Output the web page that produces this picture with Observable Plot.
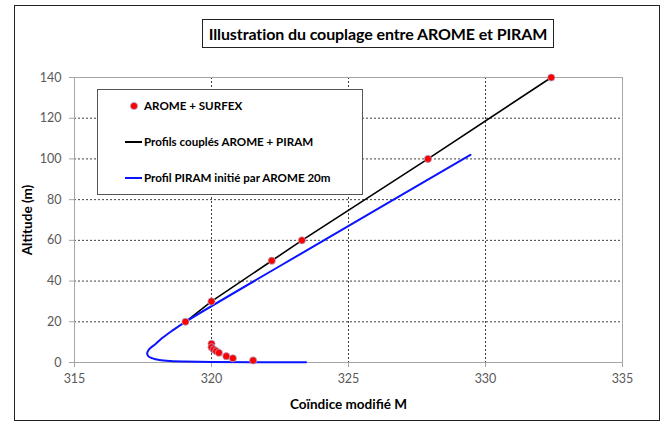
<!DOCTYPE html>
<html>
<head>
<meta charset="utf-8">
<script src="https://cdn.jsdelivr.net/npm/d3@7"></script>
<script src="https://cdn.jsdelivr.net/npm/@observablehq/plot@0.6"></script>
<style>
  html, body { margin: 0; padding: 0; background: #fff; }
  #wrap { position: relative; width: 664px; height: 427px; font-family: Lato, "Open Sans", sans-serif; }
  #outer { position: absolute; left: 14px; top: 5px; width: 646px; height: 416px; border: 1px solid #222; box-sizing: border-box; pointer-events: none; }
  #title { position: absolute; left: 202px; top: 19px; width: 352px; height: 29px; border: 1px solid #222; box-sizing: border-box;
           font-weight: bold; font-size: 16px; text-align: center; line-height: 27px; color: #000; background: #fff; letter-spacing: -0.1px; }
  #legend { position: absolute; left: 97px; top: 89px; width: 266px; height: 106px; border: 1px solid #555; box-sizing: border-box; background: #fff; }
  .item { position: absolute; left: 0; height: 16px; font-weight: bold; font-size: 11.6px; line-height: 16px; color: #000; white-space: nowrap; }
  .item svg { position: absolute; left: 24px; top: 0; }
  .item span { position: absolute; left: 46px; top: 0; }
  #plot { position: absolute; left: 0; top: 0; }
</style>
</head>
<body>
<div id="wrap">
  <div id="plot"></div>
  <div id="outer"></div>
  <div id="title"></div>
  <div id="legend"></div>
</div>
<script>
// ---- data ----
const titleText = "Illustration du couplage entre AROME et PIRAM";
const xLabel = "Coïndice modifié M";
const yLabel = "Altitude (m)";
const seriesNames = ["AROME + SURFEX", "Profils couplés AROME + PIRAM", "Profil PIRAM initié par AROME 20m"];
const xTicks = [315, 320, 325, 330, 335];
const yTicks = [0, 20, 40, 60, 80, 100, 120, 140];

// AROME + SURFEX points
const aromeM = [320.0, 320.0, 320.08, 320.17, 320.27, 320.54, 320.78, 321.52, 319.05, 320.0, 322.2, 323.3, 327.9, 332.4];
const aromeZ = [9.2, 7.5, 6.4, 5.6, 4.8, 3.1, 2.1, 1.0, 20, 30, 50, 60, 100, 140];

// Coupled profiles AROME + PIRAM
const coupleM = [319.05, 320.0, 322.2, 323.3, 327.9, 332.4];
const coupleZ = [20, 30, 50, 60, 100, 140];

// PIRAM profile initialised by AROME 20 m
const piramM = [323.45, 321.5, 320.0, 319.0, 318.5, 318.1, 317.85, 317.7, 317.65, 317.72, 317.95, 318.2, 318.55, 319.05, 324.1, 329.45];
const piramZ = [0.1, 0.15, 0.25, 0.45, 0.7, 1.2, 2.0, 3.0, 4.5, 6.5, 9.0, 12.0, 15.5, 20, 60, 102];

// ---- build ----
const arome = aromeM.map((m, i) => ({m, z: aromeZ[i]}));
const couple = coupleM.map((m, i) => ({m, z: coupleZ[i]}));
const piram = piramM.map((m, i) => ({m, z: piramZ[i]}));

const colors = {dot: "#ff0000", couple: "#000000", piram: "#0a14ff"};

const chart = Plot.plot({
  width: 664,
  height: 427,
  marginLeft: 74,
  marginRight: 42,
  marginTop: 77,
  marginBottom: 65,
  style: {fontFamily: "Lato, 'Open Sans', sans-serif", fontSize: "12.5px", color: "#595959", background: "transparent"},
  x: {domain: [315, 335]},
  y: {domain: [0, 140]},
  marks: [
    Plot.gridX(xTicks.slice(1, -1), {stroke: "#000", strokeOpacity: 0.75, strokeDasharray: "2,2"}),
    Plot.gridY(yTicks.slice(1, -1), {stroke: "#000", strokeOpacity: 0.75, strokeDasharray: "2,2"}),
    Plot.frame({stroke: "#a6a6a6"}),
    Plot.axisX({ticks: xTicks, tickSize: 5, tickPadding: 7, stroke: "#a6a6a6", tickFormat: d => d,
      label: xLabel, labelAnchor: "center", labelArrow: "none", labelOffset: 46,
      fill: "#595959"}),
    Plot.axisY({ticks: yTicks, tickSize: 5, tickPadding: 8, stroke: "#a6a6a6", tickFormat: d => d,
      label: yLabel, labelAnchor: "center", labelArrow: "none", labelOffset: 52,
      fill: "#595959"}),
    Plot.line(couple, {x: "m", y: "z", stroke: colors.couple, strokeWidth: 1.6}),
    Plot.line(piram, {x: "m", y: "z", stroke: colors.piram, strokeWidth: 2, curve: "catmull-rom"}),
    Plot.dot(arome, {x: "m", y: "z", r: 3.6, fill: colors.dot, stroke: "#9fb4e0", strokeWidth: 0.7})
  ]
});
document.getElementById("plot").appendChild(chart);

// style axis labels bold/black
chart.querySelectorAll("g[aria-label='x-axis label'] text, g[aria-label='y-axis label'] text").forEach(t => {
  t.setAttribute("font-weight", "bold");
  t.setAttribute("font-size", "13.5px");
  t.setAttribute("fill", "#000");
});

document.getElementById("title").textContent = titleText;

const legend = document.getElementById("legend");
const tops = [8, 44, 80];
const icons = [
  `<svg width="20" height="16"><circle cx="12" cy="8" r="3.6" fill="${colors.dot}" stroke="#9fb4e0" stroke-width="0.7"/></svg>`,
  `<svg width="20" height="16"><line x1="3" y1="8" x2="20" y2="8" stroke="${colors.couple}" stroke-width="2"/></svg>`,
  `<svg width="20" height="16"><line x1="3" y1="8" x2="20" y2="8" stroke="${colors.piram}" stroke-width="2"/></svg>`
];
seriesNames.forEach((name, i) => {
  const div = document.createElement("div");
  div.className = "item";
  div.style.top = tops[i] + "px";
  div.innerHTML = icons[i] + `<span></span>`;
  div.querySelector("span").textContent = name;
  legend.appendChild(div);
});
</script>
</body>
</html>
